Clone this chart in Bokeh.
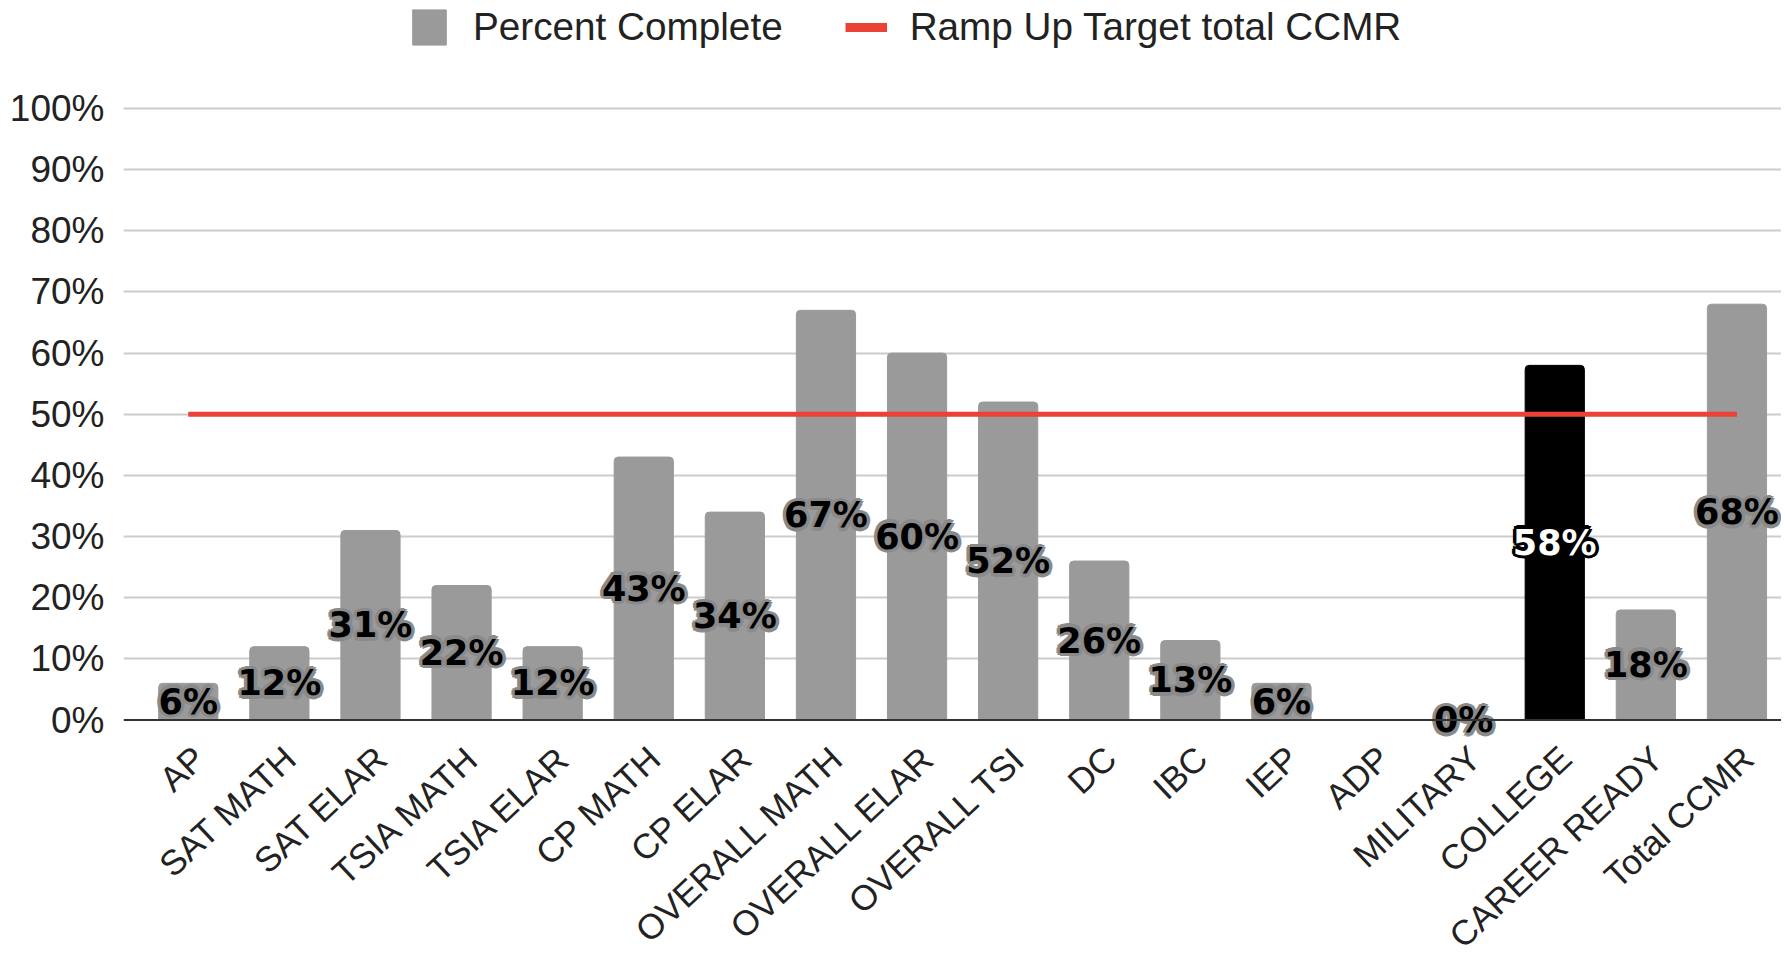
import math
import numpy as np
from bokeh.plotting import figure
from bokeh.models import (ColumnDataSource, Range1d, FixedTicker, PrintfTickFormatter,
                          Legend, LegendItem, Span)
from bokeh.core.properties import value
from bokeh.embed import file_html
from bokeh.resources import INLINE

categories = ["AP", "SAT MATH", "SAT ELAR", "TSIA MATH", "TSIA ELAR", "CP MATH", "CP ELAR",
              "OVERALL MATH", "OVERALL ELAR", "OVERALL TSI", "DC", "IBC", "IEP", "ADP",
              "MILITARY", "COLLEGE", "CAREER READY", "Total CCMR"]
percent_complete = [6, 12, 31, 22, 12, 43, 34, 67, 60, 52, 26, 13, 6, None, 0, 58, 18, 68]
ramp_up_target = [50] * len(categories)
y_ticks = [0, 10, 20, 30, 40, 50, 60, 70, 80, 90, 100]
highlight = "COLLEGE"

GREY = "#9a9a9a"
RED = "#ea4335"

idx = list(range(len(categories)))
bar_colors = ["#000000" if c == highlight else GREY for c in categories]
vals = [np.nan if v is None else v for v in percent_complete]
bar_src = ColumnDataSource(dict(x=idx, top=vals, color=bar_colors))

lab_x, lab_y, lab_t, lab_c, lab_o = [], [], [], [], []
for i, (c, v) in enumerate(zip(categories, percent_complete)):
    if v is None:
        continue
    lab_x.append(i)
    lab_y.append(v / 2)
    lab_t.append(f"{v}%")
    lab_c.append("#ffffff" if c == highlight else "#000000")
    lab_o.append("#000000" if c == highlight else "#8a8a8a")
lab_src = ColumnDataSource(dict(x=lab_x, y=lab_y, text=lab_t, color=lab_c, outline=lab_o))

p = figure(frame_width=1658, frame_height=744, output_backend="svg", toolbar_location=None,
           x_range=Range1d(-0.711, 17.489), y_range=Range1d(-4, 117.66),
           min_border_left=123, min_border_right=0, min_border_top=0, min_border_bottom=195)
p.outline_line_color = None
p.background_fill_color = "white"
p.border_fill_color = "white"

p.xgrid.grid_line_color = None
p.ygrid.grid_line_color = "#cccccc"
p.ygrid.grid_line_width = 2
p.ygrid.ticker = FixedTicker(ticks=y_ticks[1:])

bars = p.vbar(x="x", top="top", bottom=0, width=0.65, color="color", source=bar_src,
              border_radius=(4, 4, 0, 0))
p.add_layout(Span(location=0, dimension="width", line_color="#333333", line_width=2))
line = p.line(x=idx, y=ramp_up_target, line_color=RED, line_width=5)
# legend-only proxy (not drawn: NaN values) for a thicker legend swatch
proxy = p.line(x=[0, 1], y=[np.nan, np.nan], line_color=RED, line_width=9)

label_kw = dict(text_font=value("DejaVu Sans"), text_font_style="bold", text_font_size="35px",
                text_align="center", text_baseline="middle")
halo = [(3.5, 0), (-3.5, 0), (0, 3.5), (0, -3.5), (2.5, 2.5), (2.5, -2.5), (-2.5, 2.5), (-2.5, -2.5)]
for dx, dy in halo:
    p.text(x="x", y="y", text="text", source=lab_src, text_color="outline",
           x_offset=dx, y_offset=dy, **label_kw)
p.text(x="x", y="y", text="text", source=lab_src, text_color="color", **label_kw)

# axes
p.yaxis.ticker = FixedTicker(ticks=y_ticks)
p.yaxis.formatter = PrintfTickFormatter(format="%d%%")
p.yaxis.axis_line_color = None
p.yaxis.major_tick_line_color = None
p.yaxis.minor_tick_line_color = None
p.yaxis.major_label_text_font = "Liberation Sans"
p.yaxis.major_label_text_font_size = "37px"
p.yaxis.major_label_text_color = "#222222"
p.yaxis.major_label_standoff = 13

tick_pos = [i + 0.12 for i in idx]
p.xaxis.ticker = FixedTicker(ticks=tick_pos)
p.xaxis.major_label_overrides = {t: c for t, c in zip(tick_pos, categories)}
p.xaxis.major_label_orientation = 0.75
p.xaxis.axis_line_color = None
p.xaxis.major_tick_line_color = None
p.xaxis.minor_tick_line_color = None
p.xaxis.major_label_text_font = "Liberation Sans"
p.xaxis.major_label_text_font_size = "35px"
p.xaxis.major_label_text_color = "#222222"
p.xaxis.major_label_standoff = 2

legend = Legend(items=[LegendItem(label="Percent Complete", renderers=[bars]),
                       LegendItem(label="Ramp Up Target total CCMR", renderers=[proxy])],
                orientation="horizontal", location=(285, 695),
                glyph_width=42, glyph_height=44, label_standoff=23, spacing=62,
                padding=0, margin=0, border_line_color=None, background_fill_alpha=0,
                label_text_font="Liberation Sans", label_text_font_size="38.7px",
                label_text_color="#222222")
p.add_layout(legend, "center")

open("out.html", "w").write(file_html(p, INLINE))
